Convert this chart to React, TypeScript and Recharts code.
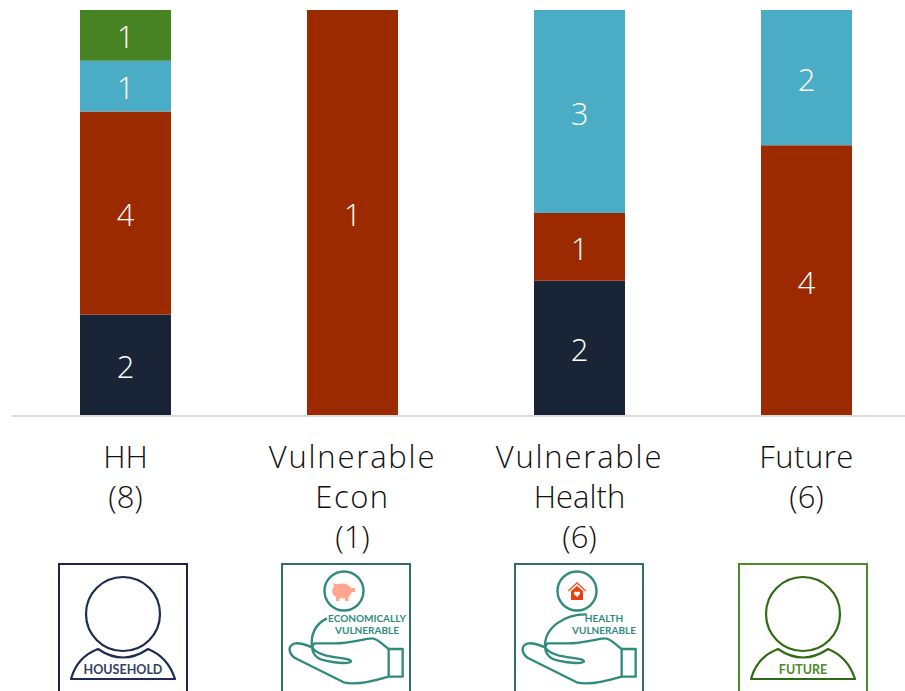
import React from 'react';
import { BarChart, Bar, XAxis, YAxis, LabelList } from 'recharts';

const categories = ['HH (8)', 'Vulnerable Econ (1)', 'Vulnerable Health (6)', 'Future (6)'];
const categoryLines = [
  ['HH', '(8)'],
  ['Vulnerable', 'Econ', '(1)'],
  ['Vulnerable', 'Health', '(6)'],
  ['Future', '(6)'],
];
const navyValues = [2, 0, 2, 0];
const redValues = [4, 1, 1, 4];
const blueValues = [1, 0, 3, 2];
const greenValues = [1, 0, 0, 0];

const chartData = categories.map((name, i) => ({
  name,
  navy: navyValues[i],
  red: redValues[i],
  blue: blueValues[i],
  green: greenValues[i],
}));

const FONT = '"Open Sans", Lato, sans-serif';
const BADGE_FONT = 'Lato, "Open Sans", sans-serif';
// the axis words run wide, so the long ones get some tracking
const LINE_SPACING: Record<string, number> = { Vulnerable: 1.8, Econ: 1.5, Future: 0.5 };
const hideZero = (v: any) => (v ? v : '');

const barLabel = (key: string) => (
  <LabelList
    dataKey={key}
    position="center"
    fill="#FFFFFF"
    fontSize={31}
    fontFamily={FONT}
    fontWeight={300}
    dy={2}
    formatter={hideZero}
  />
);

// person outline used for the household and future badges
function PersonBadge({ x, color, frame, text, textColor }: any) {
  return (
    <g>
      <rect x={x} y={564} width={128} height={140} fill="#FFFFFF" stroke={frame} strokeWidth={2} />
      <circle cx={x + 64} cy={614} r={37} fill="none" stroke={color} strokeWidth={2.2} />
      <path
        d={`M${x + 12} 679 Q${x + 18} 657 ${x + 39} 649 Q${x + 64} 666 ${x + 89} 649 Q${x + 109} 657 ${x + 116} 679 Z`}
        fill="none"
        stroke={color}
        strokeWidth={2.2}
        strokeLinejoin="round"
      />
      <text x={x + 64} y={674} textAnchor="middle" fontFamily={BADGE_FONT} fontWeight={700} fontSize={12.5} fill={textColor}>
        {text}
      </text>
    </g>
  );
}

// open hand holding a small round emblem
function HandBadge({ x, arc, lines, textX, children }: any) {
  return (
    <g>
      <rect x={x} y={564} width={128} height={140} fill="#FFFFFF" stroke="#316E67" strokeWidth={2} />
      <circle cx={x + 62} cy={591} r={19.5} fill="none" stroke="#2F8B7E" strokeWidth={2.4} />
      {children}
      <g transform={`translate(${x} 564) scale(0.3333)`} fill="none" stroke="#2F8B7E" strokeWidth={7} strokeLinejoin="round">
        <path d={arc} />
        <rect x={320} y={255} width={42} height={83} />
        <path d="M320 255 C300 240 285 222 270 223 C240 224 205 240 150 238 L97 238 C85 250 90 282 130 290 C165 298 205 300 207 292 C205 282 160 282 130 274 C110 268 98 262 90 250 C70 242 45 232 30 242 C15 255 25 275 45 285 L185 355 C220 365 280 350 320 338" />
      </g>
      {lines.map((line: string, i: number) => (
        <text key={line} x={x + textX} y={622 + i * 12} textAnchor="middle" fontFamily={BADGE_FONT} fontWeight={700} fontSize={10} fill="#2F8B7E">
          {line}
        </text>
      ))}
    </g>
  );
}

function Piggy({ cx, cy }: any) {
  return (
    <g fill="#FFA78E">
      <ellipse cx={cx} cy={cy} rx={10} ry={7.5} />
      <path d={`M${cx - 9} ${cy - 8} L${cx - 3} ${cy - 6} L${cx - 7} ${cy - 2} Z`} />
      <rect x={cx - 6} y={cy + 4} width={3.5} height={6} />
      <rect x={cx + 3} y={cy + 4} width={3.5} height={6} />
      <rect x={cx + 9} y={cy - 3} width={4} height={4} />
    </g>
  );
}

function House({ cx, cy }: any) {
  return (
    <g>
      <path d={`M${cx - 9} ${cy - 1} L${cx} ${cy - 9} L${cx + 9} ${cy - 1}`} fill="none" stroke="#EE5A2E" strokeWidth={1.4} />
      <path d={`M${cx - 6} ${cy - 1} L${cx} ${cy - 6} L${cx + 6} ${cy - 1} V${cy + 8} H${cx - 6} Z`} fill="#E8400F" />
      <path d={`M${cx} ${cy + 5} L${cx - 3} ${cy + 2} A1.6 1.6 0 0 1 ${cx} ${cy + 0.5} A1.6 1.6 0 0 1 ${cx + 3} ${cy + 2} Z`} fill="#FFFFFF" />
    </g>
  );
}

function CategoryTick({ x, y, index }: any) {
  const lines = categoryLines[index] || [];
  return (
    <g>
      <text textAnchor="middle" fontFamily={FONT} fontWeight={300} fontSize={31} fill="#111111">
        {lines.map((line, i) => (
          <tspan key={line} x={x} y={y + 52 + i * 40} letterSpacing={LINE_SPACING[line] ?? 0}>
            {line}
          </tspan>
        ))}
      </text>
      {index === 0 && <PersonBadge x={59} color="#1C2C50" frame="#1B2740" text="HOUSEHOLD" textColor="#33415F" />}
      {index === 1 && (
        <HandBadge
          x={282}
          arc="M90 253 C85 210 100 180 135 163"
          lines={['ECONOMICALLY', 'VULNERABLE']}
          textX={85}
        >
          <Piggy cx={342} cy={591} />
        </HandBadge>
      )}
      {index === 2 && (
        <HandBadge
          x={515}
          arc="M90 253 C85 190 150 150 215 151"
          lines={['HEALTH', 'VULNERABLE']}
          textX={89}
        >
          <House cx={577} cy={592} />
        </HandBadge>
      )}
      {index === 3 && <PersonBadge x={739} color="#2F6B12" frame="#4F8A2C" text="FUTURE" textColor="#4F8A2C" />}
    </g>
  );
}

export default function App() {
  return (
    <div style={{ position: 'absolute', left: 0, top: 0, width: 905, height: 691, overflow: 'hidden', background: '#FFFFFF' }}>
      <BarChart
        width={920}
        height={691}
        data={chartData}
        stackOffset="expand"
        barSize={91}
        margin={{ top: 10, right: 0, bottom: 0, left: 12 }}
      >
        <YAxis hide domain={[0, 1]} />
        <XAxis
          dataKey="name"
          height={275}
          interval={0}
          tickLine={false}
          tickSize={0}
          tickMargin={0}
          axisLine={{ stroke: '#D9D9D9', strokeWidth: 2 }}
          tick={<CategoryTick />}
        />
        <Bar dataKey="navy" stackId="a" fill="#1A2437" isAnimationActive={false}>
          {barLabel('navy')}
        </Bar>
        <Bar dataKey="red" stackId="a" fill="#9C2A00" isAnimationActive={false}>
          {barLabel('red')}
        </Bar>
        <Bar dataKey="blue" stackId="a" fill="#4BACC6" isAnimationActive={false}>
          {barLabel('blue')}
        </Bar>
        <Bar dataKey="green" stackId="a" fill="#478223" isAnimationActive={false}>
          {barLabel('green')}
        </Bar>
      </BarChart>
    </div>
  );
}
